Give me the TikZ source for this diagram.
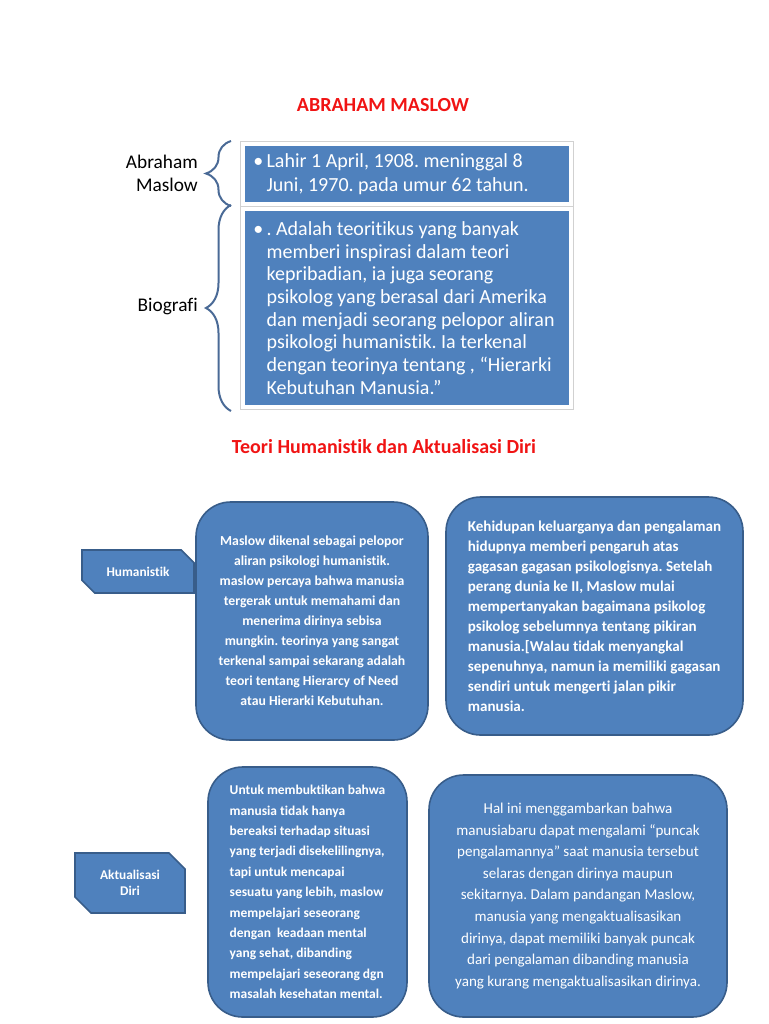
\documentclass[tikz,border=0pt]{standalone}
\usepackage{fontspec}
\setmainfont{Carlito}[Ligatures=NoCommon]
\frenchspacing
\usetikzlibrary{calc,shapes.misc,decorations.pathreplacing}
\definecolor{boxblue}{RGB}{79,129,189}
\definecolor{edgeblue}{RGB}{56,93,138}
\definecolor{braceblue}{RGB}{74,106,150}
\definecolor{titlered}{RGB}{240,20,20}
\tikzset{
  title/.style={text=titlered, font=\fontsize{15}{18}\selectfont\bfseries},
  side/.style={anchor=east, align=right, inner sep=0pt, font=\fontsize{14.5}{17.25}\selectfont},
  biobox/.style={rectangle, fill=boxblue, draw=white, line width=3pt,
    preaction={draw=black!18, line width=4.5pt}, inner sep=0pt, minimum width=246pt},
  biotext/.style={anchor=west, text=white, align=left, inner xsep=9pt, inner ysep=0pt},
  tag/.style={chamfered rectangle, chamfered rectangle corners={north east,south west},
    chamfered rectangle xsep=6pt, chamfered rectangle ysep=6pt,
    fill=boxblue, draw=edgeblue, line width=1.2pt, text=white, align=center,
    inner sep=0pt, font=\fontsize{10}{12}\selectfont\bfseries},
  card/.style={rectangle, rounded corners=26pt, fill=boxblue, draw=edgeblue,
    line width=1.2pt, text=white, inner sep=0pt},
  brace/.style={draw=braceblue, line width=1.5pt,
    decorate, decoration={brace, amplitude=18.75pt}}
}
\newcommand{\bul}{\makebox[10pt][l]{\textbullet}}
\newcommand{\ind}{\hspace*{10pt}}

\begin{document}
\begin{tikzpicture}[x=0.75pt, y=-0.75pt]
  \useasboundingbox (0,0) rectangle (768,1024);

  \node[title] (judul) at (383,105) {ABRAHAM MASLOW};

  \node[biobox, minimum height=45pt] (lahir) at (407,174) {};
  \node[biotext, font=\fontsize{15}{18}\selectfont] (lahirteks) at (lahir.west)
    {\bul Lahir 1 April, 1908. meninggal 8\\\ind Juni, 1970. pada umur 62 tahun.};
  \node[biobox, minimum height=148.5pt] (bio) at (407,308) {};
  \node[biotext, font=\fontsize{15}{17}\selectfont] (bioteks) at (bio.west)
    {\bul . Adalah teoritikus yang banyak\\\ind memberi inspirasi dalam teori\\\ind kepribadian, ia juga seorang\\\ind psikolog yang berasal dari Amerika\\\ind dan menjadi seorang pelopor aliran\\\ind psikologi humanistik. Ia terkenal\\\ind dengan teorinya tentang , “Hierarki\\\ind Kebutuhan Manusia.”};

  \node[side] (nama) at (198,173) {Abraham\\Maslow};
  \node[side] (biografi) at (198,307) {Biografi};

  \draw[brace] ($(lahir.south west)+(-10,0)$) -- ($(lahir.north west)+(-10,-1)$);
  \draw[brace] ($(bio.south west)+(-10,2)$) -- ($(bio.north west)+(-10,-2)$);

  \node[title] (teori) at (384,447) {Teori Humanistik dan Aktualisasi Diri};

  \node[tag, minimum width=84pt, minimum height=32.25pt] (humanistik) at (138,571.5) {Humanistik};
  \node[tag, minimum width=82.5pt, minimum height=45pt] (aktualisasi) at (130,883) {Aktualisasi\\Diri};

  \node[card, minimum width=174pt, minimum height=178.5pt, align=center,
    font=\fontsize{10.3}{15}\selectfont\bfseries] (pelopor) at (312,621)
    {Maslow dikenal sebagai pelopor\\aliran psikologi humanistik.\\maslow percaya bahwa manusia\\tergerak untuk memahami dan\\menerima dirinya sebisa\\mungkin. teorinya yang sangat\\terkenal sampai sekarang adalah\\teori tentang Hierarcy of Need\\atau Hierarki Kebutuhan.};
  \node[card, minimum width=222.75pt, minimum height=178.5pt, align=left,
    font=\fontsize{11.3}{15}\selectfont\bfseries] (keluarga) at (594.5,616)
    {Kehidupan keluarganya dan pengalaman\\hidupnya memberi pengaruh atas\\gagasan gagasan psikologisnya. Setelah\\perang dunia ke II, Maslow mulai\\mempertanyakan bagaimana psikolog\\psikolog sebelumnya tentang pikiran\\manusia.[Walau tidak menyangkal\\sepenuhnya, namun ia memiliki gagasan\\sendiri untuk mengerti jalan pikir\\manusia.};
  \node[card, minimum width=149.25pt, minimum height=187.5pt, align=left,
    font=\fontsize{10.1}{15.3}\selectfont\bfseries] (bukti) at (307.5,892)
    {Untuk membuktikan bahwa\\manusia tidak hanya\\bereaksi terhadap situasi\\yang terjadi disekelilingnya,\\tapi untuk mencapai\\sesuatu yang lebih, maslow\\mempelajari seseorang\\dengan~ keadaan mental\\yang sehat, dibanding\\mempelajari seseorang dgn\\masalah kesehatan mental.};
  \node[card, minimum width=223.5pt, minimum height=181.5pt, align=center,
    font=\fontsize{11.3}{16.2}\selectfont] (puncak) at (578,896)
    {Hal ini menggambarkan bahwa\\manusiabaru dapat mengalami “puncak\\pengalamannya” saat manusia tersebut\\selaras dengan dirinya maupun\\sekitarnya. Dalam pandangan Maslow,\\manusia yang mengaktualisasikan\\dirinya, dapat memiliki banyak puncak\\dari pengalaman dibanding manusia\\yang kurang mengaktualisasikan dirinya.};
\end{tikzpicture}
\end{document}
